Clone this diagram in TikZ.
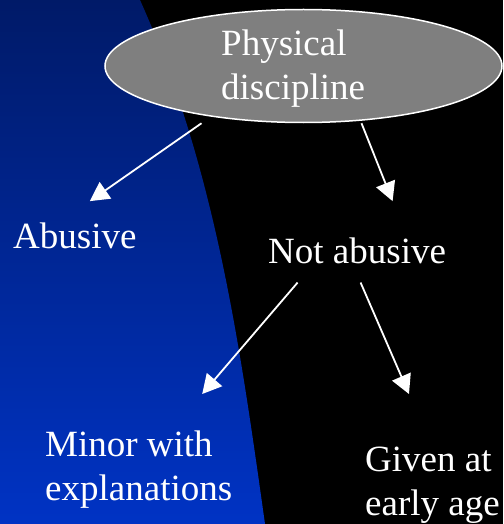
\documentclass[tikz,border=0pt]{standalone}
\usepackage{fontspec}
\setmainfont{Liberation Serif}
\usetikzlibrary{arrows.meta,shapes.geometric}
\definecolor{navytop}{HTML}{001A68}
\definecolor{navybottom}{HTML}{0033C4}
\definecolor{bubblegray}{HTML}{7F7F7F}

\begin{document}
\begin{tikzpicture}[x=1pt, y=-1pt, >={Triangle[length=19pt,width=20pt]},
    txt/.style={text=white, inner sep=0pt, font=\fontsize{37}{44}\selectfont, align=left},
    bubble/.style={ellipse, draw=white, line width=1.5pt, fill=bubblegray, inner sep=0pt,
      minimum width=397pt, minimum height=113pt},
    arr/.style={->, white, line width=1.8pt}]
  \useasboundingbox (0,0) rectangle (503,524);
  % Background
  \fill[black] (0,0) rectangle (503,524);
  \shade[top color=navytop, bottom color=navybottom]
    (0,0) -- (140,0) .. controls (216.5,170) and (241,354) .. (265,524) -- (0,524) -- cycle;
  % Nodes
  \node[bubble] (pd) at (303.5,66) {};
  \node[txt, anchor=north west] (pdlabel) at (221,30) {Physical\\discipline};
  \node[txt, anchor=base west] (abu) at (13,248) {Abusive};
  \node[txt, anchor=base west] (nab) at (268,263) {Not abusive};
  \node[txt, anchor=north west] (minor) at (45,431) {Minor with\\explanations};
  \node[txt, anchor=north west] (early) at (365,447) {Given at\\early age};
  % Arrows
  \draw[arr] ([shift={(-102,0)}]pd.south) -- ([shift={(15,-21)}]abu.north);
  \draw[arr] ([shift={(58,0)}]pd.south) -- ([shift={(35.5,-36)}]nab.north);
  \draw[arr] ([shift={(-59.5,19)}]nab.south) -- ([shift={(63.5,-37)}]minor.north);
  \draw[arr] ([shift={(3.5,19)}]nab.south) -- ([shift={(-23.5,-53)}]early.north);
\end{tikzpicture}
\end{document}
